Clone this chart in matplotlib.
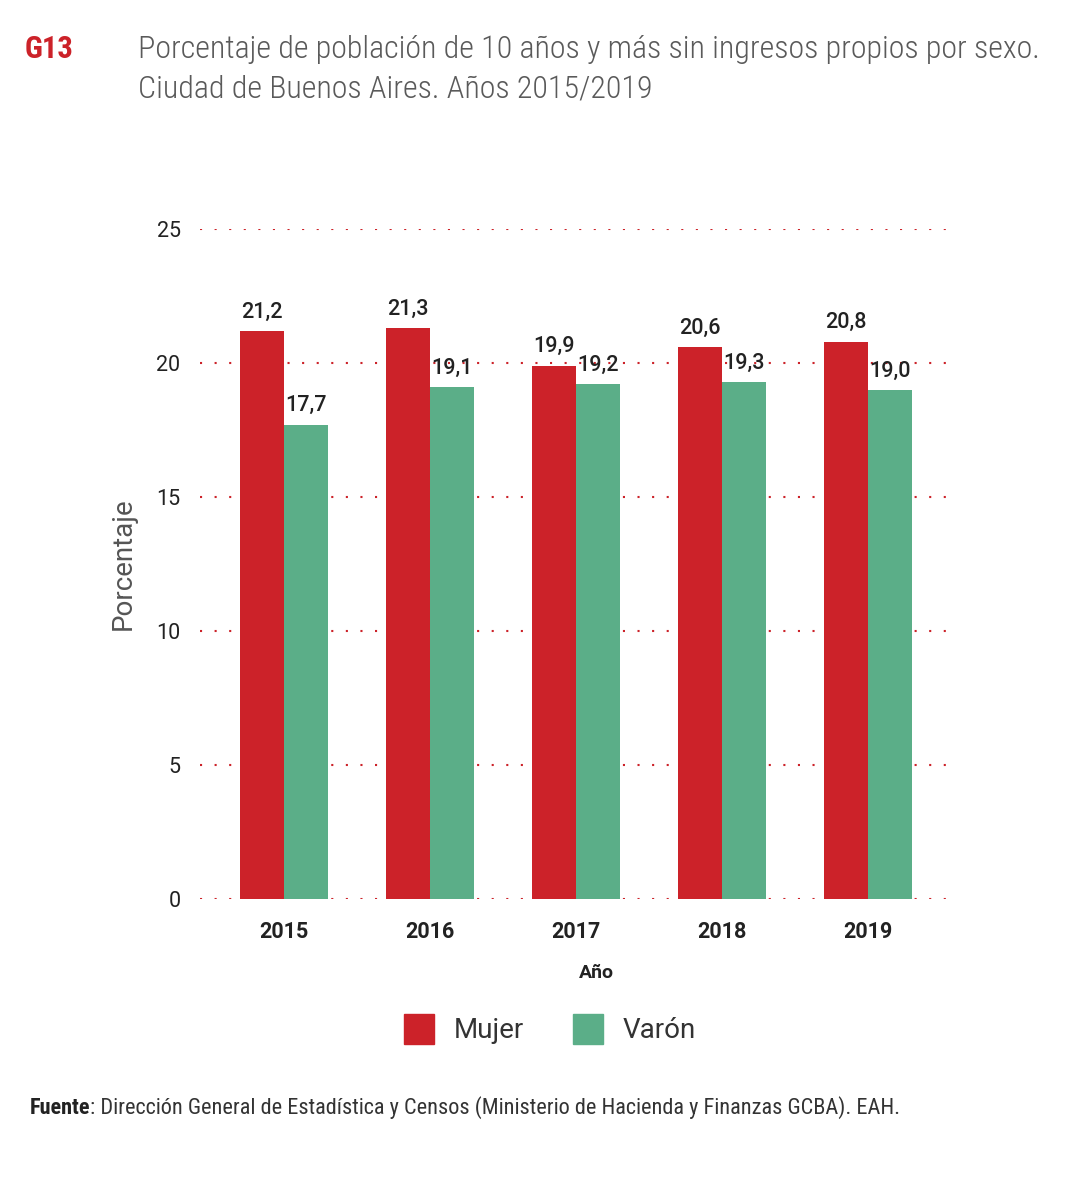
import matplotlib
matplotlib.use("Agg")
import matplotlib.pyplot as plt
from matplotlib.patches import Rectangle
from matplotlib import font_manager as fm
import numpy as np

years = ["2015", "2016", "2017", "2018", "2019"]
mujer = [21.2, 21.3, 19.9, 20.6, 20.8]
varon = [17.7, 19.1, 19.2, 19.3, 19.0]
mujer_labels = ["21,2", "21,3", "19,9", "20,6", "20,8"]
varon_labels = ["17,7", "19,1", "19,2", "19,3", "19,0"]
yticks = [0, 5, 10, 15, 20, 25]

RED = "#CC2229"
GREEN = "#5BAE88"
body = ["Roboto", "DejaVu Sans"]
names = {f.name for f in fm.fontManager.ttflist}
cond_candidates = ["Roboto Condensed", "Liberation Sans Narrow", "Open Sans Condensed", "DejaVu Sans Condensed"]
narrow = None
for c in cond_candidates:
    if c in names:
        narrow = c
        break
narrow_kw = dict(family=[narrow] if narrow else ["DejaVu Sans"])
if narrow is None or narrow == "DejaVu Sans":
    narrow_kw["fontstretch"] = "condensed"

fig = plt.figure(figsize=(10.84, 11.8), dpi=100)
W, H = 1084, 1180
ax = fig.add_axes([200 / W, 1 - 899 / H, (952 - 200) / W, (899 - 229) / H])

x = np.arange(len(years))
bw = 0.30
ax.bar(x - bw / 2, mujer, width=bw, color=RED, zorder=3)
ax.bar(x + bw / 2, varon, width=bw, color=GREEN, zorder=3)

for i in range(len(years)):
    ax.annotate(mujer_labels[i], (x[i] - bw / 2, mujer[i]), xytext=(0, 6),
                textcoords="offset points", ha="center", va="bottom",
                fontsize=15.5, color="#222222", family=body, fontweight="medium")
    ax.annotate(varon_labels[i], (x[i] + bw / 2, varon[i]), xytext=(0, 6),
                textcoords="offset points", ha="center", va="bottom",
                fontsize=15.5, color="#222222", family=body, fontweight="medium")

ax.set_xlim(-0.575, 4.575)
ax.set_ylim(0, 25)
ax.set_yticks(yticks)
ax.set_yticklabels([str(v) for v in yticks], fontsize=15.5, color="#222222", family=body)
ax.set_xticks(x)
ax.set_xticklabels(years, fontsize=15.5, color="#222222", family=body, fontweight="bold")
ax.tick_params(axis="both", length=0)
ax.tick_params(axis="y", pad=14)
ax.tick_params(axis="x", pad=16)
for s in ax.spines.values():
    s.set_visible(False)
ax.yaxis.grid(True, color=RED, linestyle=(0, (1, 6)), linewidth=1.5, zorder=0)
ax.set_axisbelow(True)
ax.set_ylabel("Porcentaje", fontsize=20, color="#555555", family=body, labelpad=14)
fig.text(596 / W, 1 - 973 / H, "Año", fontsize=14, color="#222222", family=body,
         fontweight="bold", ha="center", va="center")

# Titles
fig.text(25 / W, 1 - 49 / H, "G13", fontsize=22, color=RED, fontweight="bold",
         va="center", ha="left", **narrow_kw)
fig.text(138 / W, 1 - 49 / H, "Porcentaje de población de 10 años y más sin ingresos propios por sexo.",
         fontsize=23, color="#5a5a5a", fontweight="light", va="center", ha="left", **narrow_kw)
fig.text(138 / W, 1 - 89 / H, "Ciudad de Buenos Aires. Años 2015/2019",
         fontsize=23, color="#5a5a5a", fontweight="light", va="center", ha="left", **narrow_kw)

# Legend
for (x0, col, lab) in [(404, RED, "Mujer"), (573, GREEN, "Varón")]:
    fig.patches.append(Rectangle((x0 / W, 1 - 1044 / H), 30 / W, 30 / H,
                                 transform=fig.transFigure, color=col))
    fig.text((x0 + 50) / W, 1 - 1031 / H, lab, fontsize=20, color="#333333",
             family=body, va="center", ha="left")

# Source
t1 = fig.text(30 / W, 1 - 1108 / H, "Fuente", fontsize=16, color="#222222",
              fontweight="bold", va="center", ha="left", **narrow_kw)
fig.canvas.draw()
bb = t1.get_window_extent(renderer=fig.canvas.get_renderer())
fig.text(bb.x1 / W, 1 - 1108 / H, ": Dirección General de Estadística y Censos (Ministerio de Hacienda y Finanzas GCBA). EAH.",
         fontsize=16, color="#333333", va="center", ha="left", **narrow_kw)

fig.savefig("out.png", dpi=100)
